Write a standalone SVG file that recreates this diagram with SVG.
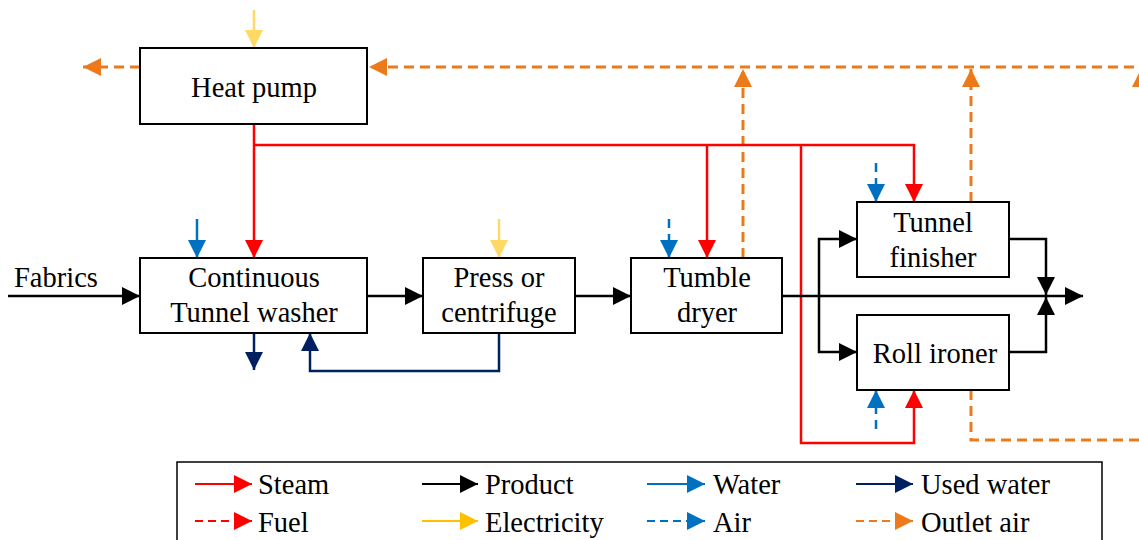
<svg xmlns="http://www.w3.org/2000/svg" width="1139" height="540" viewBox="0 0 1139 540">
  <style>
    .box { fill: #ffffff; stroke: #000000; stroke-width: 2; }
    .lbl { font-family: 'Liberation Serif', Tinos, 'Times New Roman', 'DejaVu Serif', serif; font-size: 28.5px; fill: #000000; }
    .mid { text-anchor: middle; }
    .ln { fill: none; stroke-width: 2.5; }
    .steam { stroke: #ff0000; }
    .prod { stroke: #000000; }
    .water { stroke: #0070c0; }
    .used { stroke: #002060; }
    .elec { stroke: #ffd966; }
    .elec-l { stroke: #ffc000; }
    .air { stroke: #0070c0; stroke-dasharray: 9 6; }
    .fuel { stroke: #ff0000; stroke-dasharray: 8 5; }
    .out { stroke: #ec7a1a; stroke-width: 3; stroke-dasharray: 10 6; }
    .out-l { stroke: #ec7a1a; stroke-dasharray: 8 5; }
  </style>
  <defs>
    <marker id="a-red" viewBox="0 0 18 18" markerUnits="userSpaceOnUse" markerWidth="18" markerHeight="18" refX="18" refY="9" orient="auto"><path d="M0,0 L18,9 L0,18 Z" fill="#ff0000"/></marker>
    <marker id="a-blk" viewBox="0 0 18 18" markerUnits="userSpaceOnUse" markerWidth="18" markerHeight="18" refX="18" refY="9" orient="auto"><path d="M0,0 L18,9 L0,18 Z" fill="#000000"/></marker>
    <marker id="a-blue" viewBox="0 0 18 18" markerUnits="userSpaceOnUse" markerWidth="18" markerHeight="18" refX="18" refY="9" orient="auto"><path d="M0,0 L18,9 L0,18 Z" fill="#0070c0"/></marker>
    <marker id="a-navy" viewBox="0 0 18 18" markerUnits="userSpaceOnUse" markerWidth="18" markerHeight="18" refX="18" refY="9" orient="auto"><path d="M0,0 L18,9 L0,18 Z" fill="#002060"/></marker>
    <marker id="a-yel" viewBox="0 0 18 18" markerUnits="userSpaceOnUse" markerWidth="18" markerHeight="18" refX="18" refY="9" orient="auto"><path d="M0,0 L18,9 L0,18 Z" fill="#ffd966"/></marker>
    <marker id="a-gold" viewBox="0 0 18 18" markerUnits="userSpaceOnUse" markerWidth="18" markerHeight="18" refX="18" refY="9" orient="auto"><path d="M0,0 L18,9 L0,18 Z" fill="#ffc000"/></marker>
    <marker id="a-org" viewBox="0 0 18 18" markerUnits="userSpaceOnUse" markerWidth="18" markerHeight="18" refX="18" refY="9" orient="auto"><path d="M0,0 L18,9 L0,18 Z" fill="#ec7a1a"/></marker>
  </defs>

  <!-- connectors -->
  <g id="connectors">
    <!-- outlet air (dashed orange) -->
    <path class="ln out" d="M140,67 H83" marker-end="url(#a-org)"/>
    <path class="ln out" d="M1150,67 H369" marker-end="url(#a-org)"/>
    <path class="ln out" d="M743,258 V69" marker-end="url(#a-org)"/>
    <path class="ln out" d="M971,202 V69" marker-end="url(#a-org)"/>
    <path class="ln out" d="M971,390 V440 H1141 V69" marker-end="url(#a-org)"/>

    <!-- electricity -->
    <path class="ln elec" d="M254,10 V48" marker-end="url(#a-yel)"/>
    <path class="ln elec" d="M499,219 V258" marker-end="url(#a-yel)"/>

    <!-- steam -->
    <path class="ln steam" d="M254,124 V258" marker-end="url(#a-red)"/>
    <path class="ln steam" d="M254,145 H914 V202" marker-end="url(#a-red)"/>
    <path class="ln steam" d="M707,145 V258" marker-end="url(#a-red)"/>
    <path class="ln steam" d="M801,145 V443 H914 V390" marker-end="url(#a-red)"/>

    <!-- water and air -->
    <path class="ln water" d="M197,219 V258" marker-end="url(#a-blue)"/>
    <path class="ln air" d="M669,219 V258" marker-end="url(#a-blue)"/>
    <path class="ln air" d="M876,163 V202" marker-end="url(#a-blue)"/>
    <path class="ln air" d="M876,429 V390" marker-end="url(#a-blue)"/>

    <!-- used water -->
    <path class="ln used" d="M254,333 V370" marker-end="url(#a-navy)"/>
    <path class="ln used" d="M499,333 V371 H310 V333" marker-end="url(#a-navy)"/>

    <!-- product -->
    <path class="ln prod" d="M8,296 H140" marker-end="url(#a-blk)"/>
    <path class="ln prod" d="M367,296 H423" marker-end="url(#a-blk)"/>
    <path class="ln prod" d="M575,296 H631" marker-end="url(#a-blk)"/>
    <path class="ln prod" d="M782,296 H1083" marker-end="url(#a-blk)"/>
    <path class="ln prod" d="M819,296 V239 H857" marker-end="url(#a-blk)"/>
    <path class="ln prod" d="M819,296 V352 H857" marker-end="url(#a-blk)"/>
    <path class="ln prod" d="M1009,239 H1046 V295" marker-end="url(#a-blk)"/>
    <path class="ln prod" d="M1009,352 H1046 V297" marker-end="url(#a-blk)"/>
  </g>

  <text class="lbl" x="14" y="287">Fabrics</text>

  <!-- process units -->
  <g id="heat-pump">
    <rect class="box" x="140" y="48" width="227" height="76"/>
    <text class="lbl mid" x="254" y="97">Heat pump</text>
  </g>
  <g id="tunnel-washer">
    <rect class="box" x="140" y="258" width="227" height="75"/>
    <text class="lbl mid" x="254" y="287">Continuous</text>
    <text class="lbl mid" x="254" y="322">Tunnel washer</text>
  </g>
  <g id="press">
    <rect class="box" x="423" y="258" width="152" height="75"/>
    <text class="lbl mid" x="499" y="287">Press or</text>
    <text class="lbl mid" x="499" y="322">centrifuge</text>
  </g>
  <g id="tumble-dryer">
    <rect class="box" x="631" y="258" width="151" height="75"/>
    <text class="lbl mid" x="707" y="287">Tumble</text>
    <text class="lbl mid" x="707" y="322">dryer</text>
  </g>
  <g id="tunnel-finisher">
    <rect class="box" x="857" y="202" width="152" height="75"/>
    <text class="lbl mid" x="933" y="232">Tunnel</text>
    <text class="lbl mid" x="933" y="267">finisher</text>
  </g>
  <g id="roll-ironer">
    <rect class="box" x="857" y="315" width="152" height="75"/>
    <text class="lbl mid" x="935" y="363">Roll ironer</text>
  </g>

  <!-- legend -->
  <g id="legend">
    <rect x="177" y="462" width="925" height="100" fill="#ffffff" stroke="#000000" stroke-width="1.5"/>
    <path class="ln steam" style="stroke-width:2" d="M195,484 H252" marker-end="url(#a-red)"/>
    <text class="lbl" x="258" y="494">Steam</text>
    <path class="ln fuel" style="stroke-width:2" d="M195,521 H252" marker-end="url(#a-red)"/>
    <text class="lbl" x="258" y="532">Fuel</text>

    <path class="ln prod" style="stroke-width:2" d="M422,484 H478" marker-end="url(#a-blk)"/>
    <text class="lbl" x="485" y="494">Product</text>
    <path class="ln elec-l" style="stroke-width:2" d="M422,521 H478" marker-end="url(#a-gold)"/>
    <text class="lbl" x="485" y="532">Electricity</text>

    <path class="ln water" style="stroke-width:2" d="M647,484 H705" marker-end="url(#a-blue)"/>
    <text class="lbl" x="713" y="494">Water</text>
    <path class="ln air" style="stroke-width:2;stroke-dasharray:8 5" d="M647,521 H705" marker-end="url(#a-blue)"/>
    <text class="lbl" x="713" y="532">Air</text>

    <path class="ln used" style="stroke-width:2" d="M856,484 H913" marker-end="url(#a-navy)"/>
    <text class="lbl" x="921" y="494">Used water</text>
    <path class="ln out-l" style="stroke-width:2" d="M856,521 H913" marker-end="url(#a-org)"/>
    <text class="lbl" x="921" y="532">Outlet air</text>
  </g>
</svg>
